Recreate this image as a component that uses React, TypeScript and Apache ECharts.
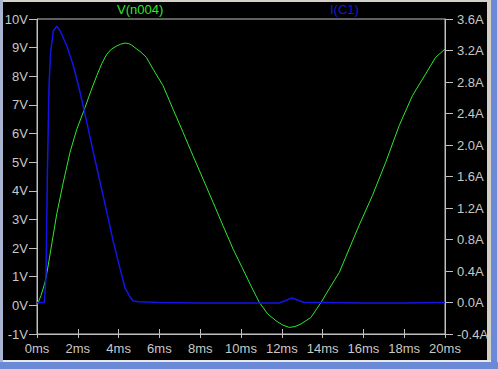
import React, { useEffect, useRef } from "react";
import * as echarts from "echarts";

// V(n004) trace (time in ms, volts)
const vTime = [0, 0.2, 0.39, 0.52, 0.97, 1.29, 1.62, 1.95, 2.35, 2.65, 2.93, 3.18, 3.42, 3.65, 3.91, 4.1, 4.31, 4.5, 4.64, 4.89, 5.1, 5.36, 5.69, 6.18, 6.67, 7.16, 7.65, 8.14, 8.63, 9.12, 9.61, 10.05, 10.49, 10.9, 11.31, 11.72, 12.05, 12.37, 12.65, 12.94, 13.43, 13.92, 14.41, 14.82, 15.13, 15.78, 16.44, 17.09, 17.75, 18.4, 19.05, 19.54, 20];
const vValues = [0, 0.35, 0.8, 1.27, 3.2, 4.3, 5.35, 6.15, 6.9, 7.5, 8.02, 8.45, 8.77, 8.95, 9.06, 9.12, 9.16, 9.14, 9.09, 8.95, 8.84, 8.66, 8.25, 7.67, 6.85, 6.04, 5.22, 4.41, 3.6, 2.78, 1.97, 1.33, 0.68, 0.1, -0.3, -0.54, -0.69, -0.77, -0.74, -0.65, -0.42, 0.1, 0.68, 1.15, 1.68, 2.78, 3.83, 4.99, 6.27, 7.32, 8.08, 8.66, 8.95];

// I(C1) trace (time in ms, amperes)
const iTime = [0, 0.36, 0.44, 0.51, 0.59, 0.67, 0.8, 0.97, 1.13, 1.46, 1.78, 2.11, 2.44, 2.76, 3.09, 3.42, 3.75, 4.07, 4.31, 4.56, 4.72, 5.0, 6.0, 8.0, 10.0, 11.88, 12.5, 13.1, 14.0, 16.0, 18.0, 20];
const iValues = [0, 0, 0.32, 1.65, 2.75, 3.18, 3.45, 3.51, 3.45, 3.26, 3.01, 2.67, 2.29, 1.91, 1.53, 1.15, 0.76, 0.43, 0.19, 0.07, 0.02, 0.01, 0, -0.006, -0.006, -0.006, 0.057, 0, 0, -0.005, -0.005, 0];

const vName = "V(n004)";
const iName = "I(C1)";

const labelColor = "#c8c8c8";
const font = "'Liberation Sans', Arial, sans-serif";

export default function App() {
  const ref = useRef<HTMLDivElement>(null);
  useEffect(() => {
    if (!ref.current) return;
    const chart = echarts.init(ref.current, undefined, { renderer: "svg" });
    const tickLabel = { color: labelColor, fontSize: 13, fontFamily: font };
    chart.setOption({
      animation: false,
      backgroundColor: "transparent",
      grid: {
        left: 37,
        right: 53,
        top: 19,
        bottom: 35,
        containLabel: false,
        outerBoundsMode: "none",
        show: true,
        borderColor: "#c0c0c0",
        borderWidth: 1,
        backgroundColor: "transparent",
      },
      graphic: [
        { type: "text", left: 117, top: 3, style: { text: vName, fill: "#2ee82e", fontSize: 13, fontFamily: font } },
        { type: "text", left: 330, top: 3, style: { text: iName, fill: "#1a1ad0", fontSize: 13, fontFamily: font } },
      ],
      xAxis: [
        {
          type: "value",
          min: 0,
          max: 20,
          interval: 2,
          position: "bottom",
          axisLine: { show: true, onZero: false, lineStyle: { color: "#c0c0c0" } },
          axisTick: { show: true, length: 4, lineStyle: { color: "#c0c0c0" } },
          splitLine: { show: false },
          axisLabel: { ...tickLabel, margin: 8, formatter: (v: number) => `${v}ms` },
        },
        {
          type: "value",
          min: 0,
          max: 20,
          interval: 2,
          position: "bottom",
          axisLine: { show: false, onZero: false },
          axisTick: { show: true, inside: true, length: 5, lineStyle: { color: "#c0c0c0" } },
          splitLine: { show: false },
          axisLabel: { show: false },
        },
      ],
      yAxis: [
        {
          type: "value",
          min: -1,
          max: 10,
          interval: 1,
          position: "left",
          axisLine: { show: true, onZero: false, lineStyle: { color: "#c0c0c0" } },
          axisTick: { show: true, length: 8, lineStyle: { color: "#c0c0c0" } },
          splitLine: { show: false },
          axisLabel: { ...tickLabel, margin: 9, formatter: (v: number) => `${v}V` },
        },
        {
          type: "value",
          min: -0.4,
          max: 3.6,
          interval: 0.4,
          position: "right",
          axisLine: { show: true, onZero: false, lineStyle: { color: "#c0c0c0" } },
          axisTick: { show: true, length: 8, lineStyle: { color: "#c0c0c0" } },
          splitLine: { show: false },
          axisLabel: { ...tickLabel, margin: 12, formatter: (v: number) => `${v.toFixed(1)}A` },
        },
      ],
      series: [
        {
          name: vName,
          type: "line",
          xAxisIndex: 0,
          yAxisIndex: 0,
          showSymbol: false,
          smooth: false,
          lineStyle: { color: "#2ee82e", width: 1 },
          data: vTime.map((t, k) => [t, vValues[k]]),
        },
        {
          name: iName,
          type: "line",
          xAxisIndex: 0,
          yAxisIndex: 1,
          showSymbol: false,
          lineStyle: { color: "#1414e6", width: 1.5 },
          data: iTime.map((t, k) => [t, iValues[k]]),
        },
      ],
    });
    return () => chart.dispose();
  }, []);

  return (
    <div style={{ position: "fixed", left: 0, top: 0, width: 498, height: 369, background: "#d4d0c8", overflow: "hidden" }}>
      <div style={{ position: "absolute", left: 0, top: 0, width: 3, height: 369, background: "#a8b4d0" }} />
      <div style={{ position: "absolute", left: 3, top: 2, width: 484, height: 358, background: "#000" }} />
      <div style={{ position: "absolute", left: 491, top: 0, width: 6, height: 369, background: "#6a8ad8" }} />
      <div style={{ position: "absolute", left: 0, top: 362, width: 498, height: 7, background: "#6a8ad8" }} />
      <div style={{ position: "absolute", left: 3, top: 360, width: 488, height: 2, background: "#e8e8e8" }} />
      <div ref={ref} style={{ position: "absolute", left: 0, top: 0, width: 498, height: 369 }} />
    </div>
  );
}
